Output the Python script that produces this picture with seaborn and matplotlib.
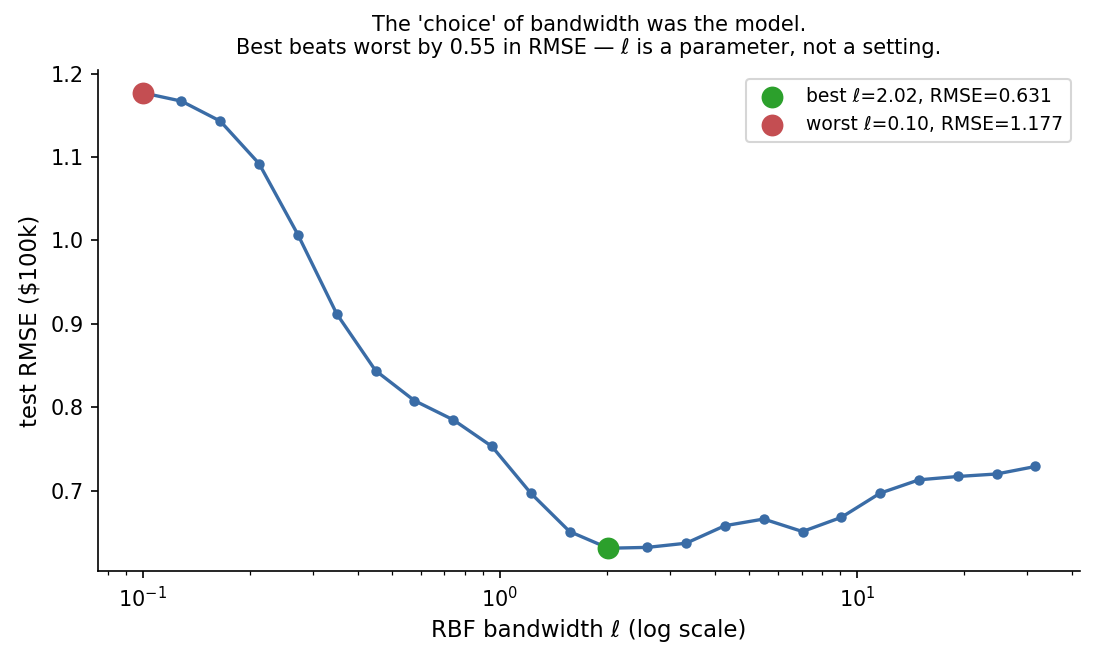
import numpy as np
import pandas as pd
import matplotlib
matplotlib.use("Agg")
import matplotlib.pyplot as plt
import seaborn as sns

# bandwidth values (log-spaced grid)
bandwidth = [0.1000, 0.1284, 0.1650, 0.2119, 0.2721, 0.3495, 0.4489, 0.5766,
             0.7406, 0.9512, 1.2217, 1.5692, 2.0155, 2.5887, 3.3249, 4.2705,
             5.4850, 7.0450, 9.0487, 11.62, 14.93, 19.17, 24.62, 31.62]
# test RMSE ($100k)
rmse = [1.177, 1.167, 1.143, 1.092, 1.007, 0.912, 0.844, 0.808,
        0.785, 0.753, 0.697, 0.651, 0.631, 0.632, 0.637, 0.658,
        0.666, 0.651, 0.668, 0.697, 0.713, 0.717, 0.720, 0.729]

df = pd.DataFrame({"bandwidth": bandwidth, "rmse": rmse})
i_best = int(np.argmin(rmse))
i_worst = int(np.argmax(rmse))

plt.rcParams["font.family"] = ["DejaVu Sans"]

fig = plt.figure(figsize=(1097 / 150, 662 / 150), dpi=150)
ax = fig.add_axes([98 / 1097, 1 - 571 / 662, (1080 - 98) / 1097, (571 - 70) / 662])

line_color = "#3a6ca6"
sns.lineplot(data=df, x="bandwidth", y="rmse", ax=ax, color=line_color,
             marker="o", markersize=5, markeredgewidth=0, linewidth=1.6)

best = df.iloc[[i_best]]
worst = df.iloc[[i_worst]]
sns.scatterplot(data=best, x="bandwidth", y="rmse", ax=ax, color="#2ca02c",
                s=110, linewidth=0, zorder=5,
                label=f"best \u2113={bandwidth[i_best]:.2f}, RMSE={rmse[i_best]:.3f}")
sns.scatterplot(data=worst, x="bandwidth", y="rmse", ax=ax, color="#c44e52",
                s=110, linewidth=0, zorder=5,
                label=f"worst \u2113={bandwidth[i_worst]:.2f}, RMSE={rmse[i_worst]:.3f}")

ax.set_xscale("log")
ax.margins(x=0.05, y=0.05)
ax.set_xlabel("RBF bandwidth \u2113 (log scale)", fontsize=11)
ax.set_ylabel("test RMSE (\\$100k)", fontsize=11)
ax.tick_params(labelsize=10)
gap = rmse[i_worst] - rmse[i_best]
ax.set_title("The 'choice' of bandwidth was the model.\n"
             f"Best beats worst by {gap:.2f} in RMSE \u2014 \u2113 is a parameter, not a setting.",
             fontsize=10, pad=7.5)
ax.legend(loc="upper right", fontsize=9, frameon=True)
sns.despine(ax=ax)

fig.savefig("out.png", dpi=150)
